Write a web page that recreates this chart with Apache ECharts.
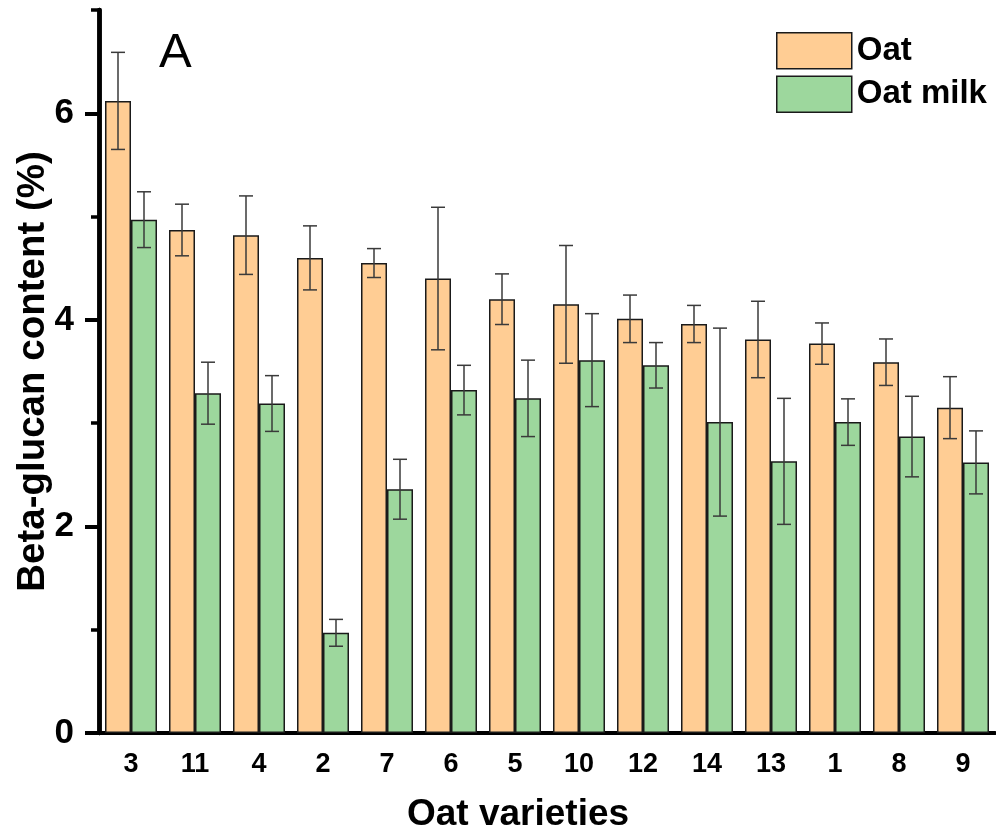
<!DOCTYPE html>
<html>
<head>
<meta charset="utf-8">
<script src="https://cdn.jsdelivr.net/npm/echarts@6/dist/echarts.min.js"></script>
<style>html,body{margin:0;padding:0;background:#fff}#c{width:996px;height:834px}</style>
</head>
<body>
<div id="c"></div>
<script>
var categories = ['3','11','4','2','7','6','5','10','12','14','13','1','8','9'];
var oat      = [6.12, 4.87, 4.82, 4.60, 4.55, 4.40, 4.20, 4.15, 4.01, 3.96, 3.81, 3.77, 3.59, 3.15];
var oatErr   = [0.47, 0.25, 0.38, 0.31, 0.14, 0.69, 0.245, 0.57, 0.23, 0.18, 0.37, 0.20, 0.225, 0.30];
var oatMilk  = [4.97, 3.29, 3.19, 0.97, 2.36, 3.32, 3.24, 3.61, 3.56, 3.01, 2.63, 3.01, 2.87, 2.62];
var milkErr  = [0.27, 0.30, 0.27, 0.13, 0.29, 0.24, 0.37, 0.45, 0.22, 0.91, 0.61, 0.225, 0.39, 0.305];
var yMajorTicks = [0, 2, 4, 6];

var FONT = '"Liberation Sans", Arial, sans-serif';
var GAP = 0.1875;

function errData(vals, errs) {
  return vals.map(function (v, i) { return [i, v, errs[i]]; });
}
function errRender(side) {
  return function (params, api) {
    var idx = api.value(0), v = api.value(1), e = api.value(2);
    var band = api.size([1, 0])[0];
    var bw = band * (1 - GAP) / 2;
    var c = api.coord([idx, v]);
    var x = c[0] + side * bw / 2;
    var top = api.coord([idx, v + e])[1];
    var bot = api.coord([idx, v - e])[1];
    var cap = 7;
    var st = { stroke: '#3a3a3a', lineWidth: 1.5 };
    return {
      type: 'group',
      children: [
        { type: 'line', shape: { x1: x, y1: top, x2: x, y2: bot }, style: st },
        { type: 'line', shape: { x1: x - cap, y1: top, x2: x + cap, y2: top }, style: st },
        { type: 'line', shape: { x1: x - cap, y1: bot, x2: x + cap, y2: bot }, style: st }
      ]
    };
  };
}

var chart = echarts.init(document.getElementById('c'), null, { renderer: 'canvas' });
chart.setOption({
  animation: false,
  backgroundColor: '#fff',
  textStyle: { fontFamily: FONT },
  grid: { left: 99, right: 1, top: 10, bottom: 101, containLabel: false, outerBoundsMode: 'none' },
  graphic: [{
    type: 'text', left: 159, top: 29,
    style: { text: 'A', font: '49px ' + FONT, fill: '#000' }
  }],
  legend: {
    orient: 'vertical', left: 771, top: 27,
    itemWidth: 75, itemHeight: 36, itemGap: 6,
    icon: 'rect',
    itemStyle: { borderColor: '#1a1a1a', borderWidth: 1.5 },
    textStyle: { fontFamily: FONT, fontSize: 33, fontWeight: 'bold', color: '#000' },
    data: ['Oat', 'Oat milk']
  },
  xAxis: {
    type: 'category', data: categories,
    name: 'Oat varieties', nameLocation: 'middle', nameGap: 63,
    nameTextStyle: { fontFamily: FONT, fontSize: 37, fontWeight: 'bold', color: '#000', padding: [0, 58, 0, 0] },
    axisLine: { lineStyle: { color: '#000', width: 4 } },
    axisTick: { alignWithLabel: true, length: 14, lineStyle: { color: '#000', width: 4 } },
    axisLabel: { fontFamily: FONT, fontSize: 27, fontWeight: 'bold', color: '#000', margin: 18 },
    splitLine: { show: false }
  },
  yAxis: [{
    type: 'value', min: 0, max: 7, interval: 1,
    name: 'Beta-glucan content (%)', nameLocation: 'middle', nameGap: 46,
    nameTextStyle: { fontFamily: FONT, fontSize: 38.5, fontWeight: 'bold', color: '#000' },
    axisLine: { show: true, lineStyle: { color: '#000', width: 4.5 } },
    axisTick: { show: true, length: 8, lineStyle: { color: '#000', width: 3.5 } },
    axisLabel: { show: false },
    splitLine: { show: false }
  }, {
    type: 'value', min: 0, max: 7, interval: 1, position: 'left', offset: 0,
    axisLine: { show: true, lineStyle: { color: '#000', width: 4.5 } },
    axisTick: { show: true, length: 14, customValues: yMajorTicks, lineStyle: { color: '#000', width: 4 } },
    axisLabel: { show: true, customValues: yMajorTicks, fontFamily: FONT, fontSize: 35, fontWeight: 'bold', color: '#000', margin: 25 },
    splitLine: { show: false }
  }],
  series: [{
    name: 'Oat', type: 'bar', data: oat, barGap: 0, barCategoryGap: (GAP * 100) + '%',
    itemStyle: { color: '#FFCD94', borderColor: '#1a1a1a', borderWidth: 1.5 }
  }, {
    name: 'Oat milk', type: 'bar', data: oatMilk, barGap: 0, barCategoryGap: (GAP * 100) + '%',
    itemStyle: { color: '#9DD79D', borderColor: '#1a1a1a', borderWidth: 1.5 }
  }, {
    type: 'custom', name: 'oatErr', data: errData(oat, oatErr), renderItem: errRender(-1), z: 10,
    encode: { x: 0, y: 1 }, silent: true
  }, {
    type: 'custom', name: 'milkErr', data: errData(oatMilk, milkErr), renderItem: errRender(1), z: 10,
    encode: { x: 0, y: 1 }, silent: true
  }]
});
</script>
</body>
</html>
